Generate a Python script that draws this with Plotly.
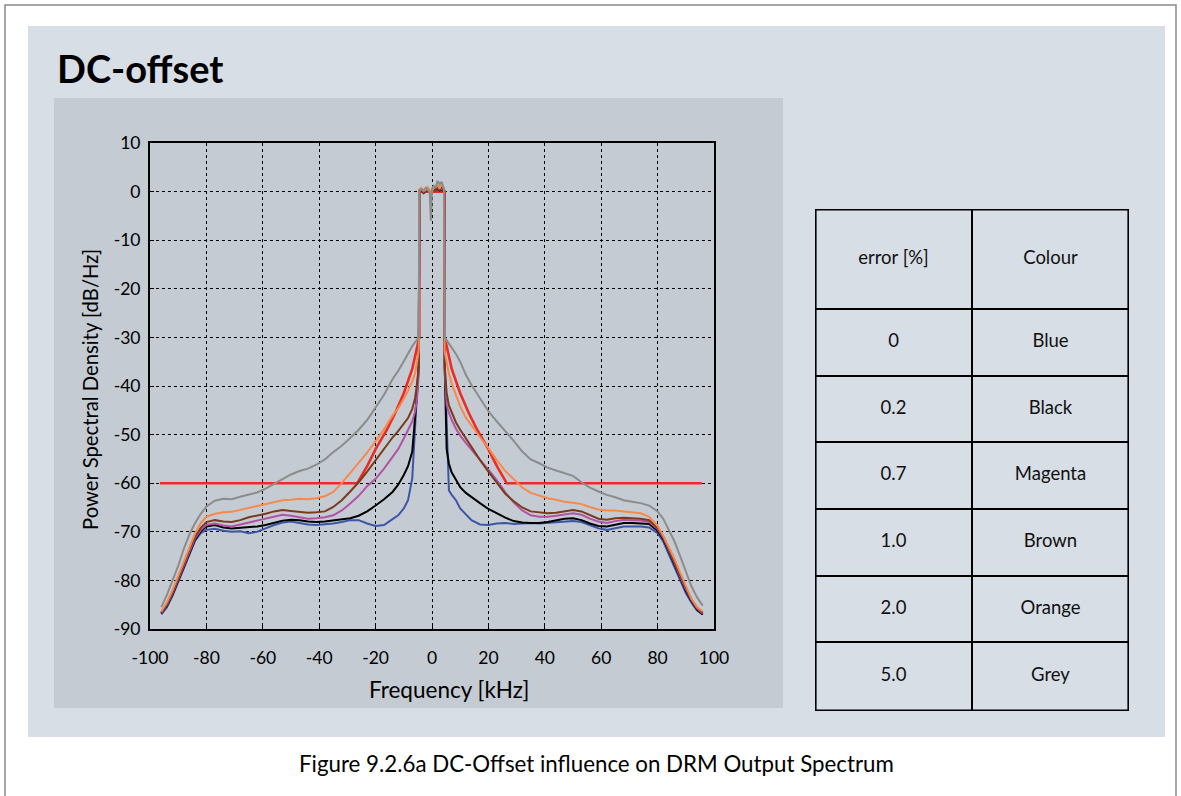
import plotly.graph_objects as go

# ---------------- data ----------------
F_LEFT = [-96, -94, -92, -90, -88, -86, -84, -82, -80,
          -77, -74, -71, -68, -65, -62, -59, -56, -53, -50, -47, -44, -41, -38, -35, -32, -29, -26, -23, -20,
          -17, -14, -12, -10, -8.5, -7, -6, -5.3, -4.7]
F_PASS = [-4.5, -3.8, -3, -2.2, -1.5, -0.8, -0.4, 0, 0.6, 1.3, 2, 2.7, 3.4, 4.0, 4.3]
F_RIGHT = [4.5, 5.2, 6, 7, 8.5, 10, 12, 14, 17,
           20, 23, 26, 29, 32, 35, 38, 41, 44, 47, 50, 53, 56, 59, 62, 65, 68, 71, 74, 77,
           80, 82, 84, 86, 88, 90, 92, 94, 96]
FREQ = F_LEFT + F_PASS + F_RIGHT

BLUE_0 = ([-87.0, -85.5, -83.2, -80.4, -77.3, -74.4, -71.8, -70.3, -69.6,
           -69.4, -69.8, -70.0, -69.9, -70.3, -70.0, -69.3, -68.6, -68.1, -67.9, -68.2, -68.5, -68.6, -68.5, -68.3, -68.0, -67.6, -67.6, -68.3, -68.8,
           -68.6, -67.4, -66.6, -65.2, -63.5, -59.0, -48.5, -40.0, -35.0]
          + [0.1, 0.2, -0.2, 0.2, 0.3, 0.0, -0.3, 0.1, 0.4, 0.3, 0.5, 0.3, 0.6, 0.1, 0.1]
          + [-35.0, -50.0, -61.5, -62.4, -63.5, -65.2, -66.5, -67.6, -68.5,
             -68.6, -68.3, -68.2, -68.4, -68.3, -68.2, -68.3, -68.2, -68.1, -67.9, -67.8, -68.0, -68.7, -69.3, -69.6, -69.2, -68.9, -68.9, -68.9, -69.1,
             -70.3, -72.0, -74.6, -77.2, -80.0, -82.6, -84.6, -86.2, -87.0])

BLACK_02 = ([-86.8, -85.2, -82.8, -80.0, -77.0, -74.1, -71.6, -69.9, -68.9,
             -68.6, -69.1, -69.3, -69.2, -69.0, -68.9, -68.6, -68.1, -67.7, -67.5, -67.6, -67.9, -68.0, -67.9, -67.7, -67.5, -67.2, -66.7, -65.8, -64.6,
             -63.3, -61.8, -60.3, -58.3, -56.5, -53.5, -47.0, -41.5, -36.0]
            + [0.0, 0.3, -0.3, 0.1, 0.4, -0.1, -0.4, 0.2, 0.3, 0.5, 0.6, 0.2, 0.5, 0.2, 0.0]
            + [-36.0, -53.0, -56.0, -57.8, -59.3, -60.8, -62.0, -62.9, -64.1,
               -65.3, -66.2, -67.1, -67.8, -68.1, -68.2, -68.2, -68.0, -67.6, -67.3, -67.2, -67.6, -68.3, -68.8, -68.9, -68.5, -68.2, -68.2, -68.3, -68.4,
               -69.8, -71.5, -74.0, -76.7, -79.5, -82.1, -84.2, -86.0, -87.0])

MAGENTA_07 = ([-86.7, -85.0, -82.6, -79.8, -76.8, -73.9, -71.3, -69.6, -68.6,
               -68.3, -68.7, -68.9, -68.5, -68.0, -67.6, -67.2, -66.8, -66.5, -66.7, -67.0, -67.3, -67.2, -67.0, -66.6, -65.6, -64.2, -62.6, -60.6, -59.1,
               -57.0, -54.6, -53.0, -50.8, -49.1, -47.3, -45.3, -42.5, -37.4]
              + [0.1, 0.4, -0.1, 0.2, 0.5, 0.0, -0.2, 0.3, 0.4, 0.6, 0.8, 0.3, 0.7, 0.3, 0.1]
              + [-37.0, -44.0, -45.5, -47.0, -48.8, -50.2, -51.7, -53.2, -55.2,
                 -57.2, -59.4, -61.9, -64.0, -65.6, -66.6, -66.9, -66.9, -66.7, -66.4, -66.2, -66.5, -67.3, -67.9, -68.2, -67.8, -67.5, -67.6, -67.7, -68.0,
                 -69.4, -71.2, -73.7, -76.4, -79.2, -81.8, -84.0, -85.8, -86.8])

BROWN_10 = ([-86.6, -84.8, -82.4, -79.6, -76.6, -73.6, -71.0, -69.2, -68.0,
             -67.6, -67.9, -68.0, -67.6, -67.0, -66.7, -66.3, -65.8, -65.5, -65.7, -65.9, -66.1, -66.0, -65.8, -64.9, -63.5, -61.7, -59.8, -57.6, -55.3,
             -52.8, -50.6, -49.3, -47.8, -46.6, -44.7, -42.5, -39.5, -36.0]
            + [0.2, 0.5, -0.2, 0.3, 0.6, 0.1, -0.3, 0.4, 0.5, 0.2, 1.0, 0.4, 0.9, 0.5, 0.2]
            + [-36.0, -41.5, -44.0, -45.5, -47.5, -49.0, -50.8, -52.5, -55.2,
               -57.6, -60.0, -62.2, -63.7, -65.0, -65.8, -66.0, -66.2, -66.1, -65.8, -65.5, -65.8, -66.6, -67.3, -67.5, -67.2, -67.1, -67.2, -67.3, -67.6,
               -69.2, -71.0, -73.5, -76.2, -79.0, -81.6, -83.9, -85.6, -86.6])

ORANGE_20 = ([-86.4, -84.5, -82.0, -79.0, -76.0, -73.0, -70.3, -68.2, -66.9,
              -66.3, -66.0, -65.9, -65.5, -65.0, -64.7, -64.3, -63.9, -63.5, -63.4, -63.2, -63.3, -63.1, -62.7, -61.8, -60.0, -57.9, -55.9, -53.7, -51.4,
              -48.9, -46.1, -44.6, -42.6, -41.0, -39.0, -37.4, -35.0, -32.6]
             + [0.5, 0.8, 0.1, 0.4, 0.9, 0.3, -0.5, 0.2, 0.8, 1.0, 1.4, 0.6, 1.6, 0.8, 0.4]
             + [-33.0, -35.5, -37.5, -39.5, -42.0, -44.2, -46.5, -48.0, -50.5,
                -52.8, -55.3, -57.5, -59.3, -60.9, -62.0, -62.6, -63.1, -63.4, -63.8, -64.0, -64.3, -64.9, -65.4, -65.6, -65.6, -65.8, -66.0, -66.2, -66.9,
                -68.8, -70.8, -73.2, -75.6, -78.4, -81.3, -83.8, -85.5, -86.4])

GREY_50 = ([-85.5, -83.0, -80.0, -77.0, -73.5, -70.5, -68.2, -66.3, -64.8,
            -63.6, -63.2, -63.3, -62.8, -62.4, -61.9, -61.1, -60.1, -59.1, -58.2, -57.5, -57.0, -56.2, -55.1, -53.6, -52.3, -50.7, -49.0, -47.0, -44.5,
            -41.8, -38.6, -36.9, -34.9, -33.2, -31.8, -31.0, -30.4, -30.0]
           + [0.3, 0.5, 0.2, 0.8, 0.4, -0.2, -6.0, 0.6, 1.2, 0.9, 2.2, 1.5, 2.0, 0.7, 0.5]
           + [-30.0, -30.6, -31.2, -32.0, -33.4, -35.0, -37.7, -39.8, -42.6,
              -45.2, -47.3, -49.2, -51.3, -53.5, -55.1, -55.9, -56.8, -57.4, -57.9, -58.5, -59.8, -60.9, -61.7, -62.4, -62.9, -63.5, -63.8, -64.1, -64.6,
              -65.8, -67.3, -69.5, -72.0, -75.0, -78.3, -81.2, -83.5, -85.2])

MASK_FREQ = [-96.5, -26.5, -23, -20, -16, -13, -10, -7, -4.5, -4.5, 4.5, 4.5, 7, 10, 13, 16, 20, 23, 26.5, 95.7]
MASK_DB = [-60, -60, -56.5, -53, -49, -45.5, -41.5, -36.5, -30, 0, 0, -30, -36.5, -41.5, -45.5, -49, -53, -56.5, -60, -60]

SERIES_NAMES = ["0", "0.2", "0.7", "1.0", "2.0", "5.0"]
SERIES_VALUES = [BLUE_0, BLACK_02, MAGENTA_07, BROWN_10, ORANGE_20, GREY_50]
SERIES_COLOURS = ["#3c56a6", "#000000", "#b352a6", "#7a3b1b", "#f7894a", "#8c8c8c"]

X_TICKS = [-100, -80, -60, -40, -20, 0, 20, 40, 60, 80, 100]
X_TICKTEXT = ["-100", "-80", "-60", "-40", "-20", "0", "20", "40", "60", "80", "100"]
Y_TICKS = [10, 0, -10, -20, -30, -40, -50, -60, -70, -80, -90]
Y_TICKTEXT = ["10", "0", "-10", "-20", "-30", "-40", "-50", "-60", "-70", "-80", "-90"]

TABLE_HEADER = ["error [%]", "Colour"]
TABLE_ERRORS = ["0", "0.2", "0.7", "1.0", "2.0", "5.0"]
TABLE_COLOURS = ["Blue", "Black", "Magenta", "Brown", "Orange", "Grey"]
TABLE_ROW_HEIGHTS = [100, 67, 66, 67, 67, 66, 69]

for v in SERIES_VALUES:
    assert len(v) == len(FREQ)

# ---------------- figure ----------------
W, H = 1181, 796
FONT = "Lato"
LIGHT = "#d8dee5"
DARK = "#c4cbd3"


def px(x):
    return x / W


def py(y):
    return 1 - y / H


fig = go.Figure()

# spectrum mask drawn first (curves sit on top of it in the pass band)
fig.add_trace(go.Scatter(x=MASK_FREQ, y=MASK_DB, mode="lines", name="mask",
                         line=dict(color="#ee2b24", width=2.6), showlegend=False,
                         xaxis="x", yaxis="y"))

for name, vals, col in zip(SERIES_NAMES, SERIES_VALUES, SERIES_COLOURS):
    fig.add_trace(go.Scatter(x=FREQ, y=vals, mode="lines", name=name,
                             line=dict(color=col, width=2.0), showlegend=False,
                             xaxis="x", yaxis="y"))

# ---- table on its own axes ----
edges = [0]
for h in TABLE_ROW_HEIGHTS:
    edges.append(edges[-1] + h)
total = edges[-1]
centers = [(edges[i] + edges[i + 1]) / 2 for i in range(len(TABLE_ROW_HEIGHTS))]

col0 = [TABLE_HEADER[0]] + TABLE_ERRORS
col1 = [TABLE_HEADER[1]] + TABLE_COLOURS
for xc, col in ((0.5, col0), (1.5, col1)):
    fig.add_trace(go.Scatter(x=[xc] * len(col), y=centers, text=col, mode="text",
                             textfont=dict(family=FONT, size=18.5, color="#111"),
                             showlegend=False, xaxis="x2", yaxis="y2", hoverinfo="skip"))

shapes = []
# outer page frame
shapes.append(dict(type="rect", xref="paper", yref="paper", x0=px(5), x1=px(1176), y0=-0.05, y1=py(5),
                   line=dict(color="#8a8a8a", width=1.5), fillcolor="white", layer="below"))
# light panel
shapes.append(dict(type="rect", xref="paper", yref="paper", x0=px(28), x1=px(1165), y0=py(737), y1=py(26),
                   line=dict(width=0), fillcolor=LIGHT, layer="below"))
# dark chart panel
shapes.append(dict(type="rect", xref="paper", yref="paper", x0=px(54), x1=px(783), y0=py(708), y1=py(98),
                   line=dict(width=0), fillcolor=DARK, layer="below"))
# table lines
for e in edges[1:-1]:
    shapes.append(dict(type="line", xref="x2", yref="y2", x0=0, x1=2, y0=e, y1=e,
                       line=dict(color="black", width=2)))
shapes.append(dict(type="line", xref="x2", yref="y2", x0=1, x1=1, y0=0, y1=total,
                   line=dict(color="black", width=2)))
shapes.append(dict(type="rect", xref="x2", yref="y2", x0=0, x1=2, y0=0, y1=total,
                   line=dict(color="black", width=3.2)))

annotations = [
    dict(text="<b>DC-offset</b>", x=px(55), y=py(68), xref="paper", yref="paper",
         xanchor="left", yanchor="middle", showarrow=False,
         font=dict(family=FONT, size=38, color="black")),
    dict(text="Figure 9.2.6a DC-Offset influence on DRM Output Spectrum", x=px(596), y=py(763),
         xref="paper", yref="paper", xanchor="center", yanchor="middle", showarrow=False,
         font=dict(family=FONT, size=22.3, color="black")),
    dict(text="Frequency [kHz]", x=px(449), y=py(689), xref="paper", yref="paper",
         xanchor="center", yanchor="middle", showarrow=False,
         font=dict(family=FONT, size=22.5, color="black")),
    dict(text="Power Spectral Density [dB/Hz]", x=px(90), y=py(390), xref="paper", yref="paper",
         xanchor="center", yanchor="middle", showarrow=False, textangle=-90,
         font=dict(family=FONT, size=20.3, color="black")),
]

fig.update_layout(
    width=W, height=H,
    margin=dict(l=0, r=0, t=0, b=0, pad=0, autoexpand=False),
    paper_bgcolor="white",
    plot_bgcolor="white",
    font=dict(family=FONT, size=16, color="black"),
    shapes=shapes,
    annotations=annotations,
    xaxis=dict(domain=[px(150), px(714)], range=[-100, 100], tickvals=X_TICKS, ticktext=X_TICKTEXT,
               showgrid=True, gridcolor="black", griddash="dot", gridwidth=1,
               showline=True, linecolor="black", linewidth=2, mirror=True,
               ticks="inside", ticklen=4, tickcolor="black", zeroline=False, automargin=False,
               tickfont=dict(family=FONT, size=17.5), ticklabelstandoff=12, fixedrange=True),
    yaxis=dict(domain=[py(629), py(143)], range=[-90, 10], tickvals=Y_TICKS, ticktext=Y_TICKTEXT,
               showgrid=True, gridcolor="black", griddash="dot", gridwidth=1,
               showline=True, linecolor="black", linewidth=2, mirror=True,
               ticks="inside", ticklen=4, tickcolor="black", zeroline=False, automargin=False,
               tickfont=dict(family=FONT, size=17.5), ticklabelstandoff=4, fixedrange=True),
    xaxis2=dict(domain=[px(815), px(1129)], range=[0, 2], visible=False, fixedrange=True, automargin=False),
    yaxis2=dict(domain=[py(711), py(209)], range=[total, 0], visible=False, fixedrange=True, automargin=False),
)

fig.write_html("out.html", config={"displayModeBar": False},
               post_script="document.body.style.margin='0px'; document.body.style.overflow='hidden';")
